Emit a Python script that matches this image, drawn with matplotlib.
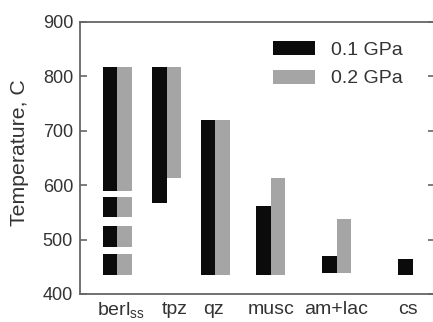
import matplotlib
matplotlib.use("Agg")
import matplotlib.pyplot as plt
from matplotlib.patches import Patch

plt.rcParams['font.family'] = ['Liberation Sans', 'DejaVu Sans']

minerals = ['berl$_{\\mathregular{ss}}$', 'tpz', 'qz', 'musc', 'am+lac', 'cs']
series = ['0.1 GPa', '0.2 GPa']
# temperature intervals (bottom, top) in C for each mineral
ranges_01 = [
    [(435, 473), (487, 525), (542, 579), (589, 818)],
    [(568, 818)],
    [(435, 720)],
    [(435, 562)],
    [(439, 469)],
    [(435, 464)],
]
ranges_02 = [
    [(435, 473), (487, 525), (542, 579), (589, 818)],
    [(613, 818)],
    [(435, 720)],
    [(435, 613)],
    [(439, 538)],
    [],
]
yticks = [400, 500, 600, 700, 800, 900]

# layout (pixel-like data units along x)
centers = [37, 86.7, 135, 190.7, 256.7, 332.7]
label_pos = [41, 95, 134, 191, 256, 328]
bw = 14.5
colors = ['#0b0b0b', '#a5a5a5']
text_color = '#333333'
spine_color = '#666666'

fig = plt.figure(figsize=(4.33, 3.22), dpi=100)
ax = fig.add_axes([80 / 433, 1 - 294 / 322, 355 / 433, 272 / 322])

for k, rngs in enumerate([ranges_01, ranges_02]):
    for c, segs in zip(centers, rngs):
        for lo, hi in segs:
            x = c - bw if k == 0 else c
            ax.bar(x, hi - lo, bottom=lo, width=bw, align='edge',
                   color=colors[k], edgecolor='none', linewidth=0)

ax.set_xlim(0, 355)
ax.set_ylim(400, 900)
ax.set_yticks(yticks)
ax.set_yticklabels([str(v) for v in yticks], fontsize=13, color=text_color)
ax.set_xticks(label_pos)
ax.set_xticklabels(minerals, fontsize=14, color=text_color)
ax.tick_params(axis='x', length=0, pad=5)
ax.tick_params(axis='y', direction='in', length=5, width=1.2, color=spine_color,
               pad=5, right=True)

for s in ['left', 'top', 'bottom']:
    ax.spines[s].set_color(spine_color)
    ax.spines[s].set_linewidth(1.3)
ax.spines['right'].set_visible(False)

ax.set_ylabel('Temperature, C', fontsize=15.3, color=text_color)
ax.yaxis.set_label_coords(-0.144, (294 - 152.5) / 272)

handles = [Patch(facecolor=colors[0], edgecolor='none'),
           Patch(facecolor=colors[1], edgecolor='none')]
leg = ax.legend(handles, series, loc='upper left',
                bbox_to_anchor=(272.7 / 433, 1 - 41.3 / 322),
                bbox_transform=fig.transFigure, frameon=False,
                fontsize=14, handlelength=2.2, handleheight=0.72,
                handletextpad=0.82, labelspacing=0.55,
                borderpad=0, borderaxespad=0)
for t in leg.get_texts():
    t.set_color(text_color)

fig.savefig('out.png', dpi=100)
